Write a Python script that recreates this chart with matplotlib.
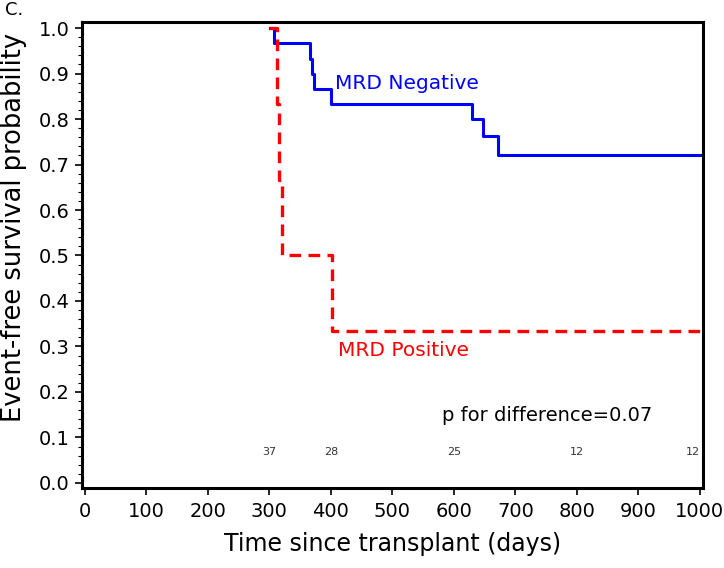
import numpy as np
import matplotlib
matplotlib.use("Agg")
import matplotlib.pyplot as plt
from matplotlib.ticker import MultipleLocator

# Kaplan-Meier step curves (time in days, survival probability)
negTime = [301, 308, 366, 370, 372, 400, 630, 647, 672, 1000]
negSurv = [1.0, 0.967, 0.933, 0.9, 0.867, 0.833, 0.8, 0.762, 0.722, 0.722]

posTime = [299, 313, 316, 320, 401, 1000]
posSurv = [1.0, 0.833, 0.667, 0.5, 0.333, 0.333]

# numbers at risk shown above the x axis
riskTime = [300, 400, 600, 800, 1000]
riskCount = ["37", "28", "25", "12", "12"]

fig = plt.figure(figsize=(7.24, 5.68), dpi=100)
ax = fig.add_axes([0.113, 0.141, 0.858, 0.820])

ax.plot(negTime, negSurv, drawstyle="steps-post", color="#0000ff", lw=2.2)
ax.plot(posTime, posSurv, drawstyle="steps-post", color="#ff0000", lw=2.4,
        linestyle=(0, (3.5, 2.2)))

ax.text(406, 0.879, "MRD Negative", color="#0000ff", fontsize=14.5, va="center")
ax.text(411, 0.292, "MRD Positive", color="#ff0000", fontsize=14.5, va="center")
ax.text(580, 0.149, "p for difference=0.07", color="black", fontsize=14, va="center")

for i in range(len(riskTime)):
    ha = "right" if i == len(riskTime) - 1 else "center"
    ax.text(riskTime[i], 0.068, riskCount[i], fontsize=8, color="#333333",
            ha=ha, va="center")

ax.set_xlim(-5, 1005)
ax.set_ylim(-0.011, 1.013)
ax.set_xticks(np.arange(0, 1001, 100))
ax.yaxis.set_major_locator(MultipleLocator(0.1))
ax.yaxis.set_minor_locator(MultipleLocator(0.02))
ax.yaxis.set_major_formatter(matplotlib.ticker.FormatStrFormatter("%.1f"))

for s in ax.spines.values():
    s.set_linewidth(2.2)
ax.tick_params(axis="both", which="major", labelsize=14, length=5, width=1.2, direction="out")
ax.tick_params(axis="x", which="major", pad=5)
ax.tick_params(axis="y", which="major", pad=4)
ax.tick_params(axis="y", which="minor", length=3, width=0.8, direction="out")

ax.set_xlabel("Time since transplant (days)", fontsize=17, labelpad=8)
ax.set_ylabel("Event-free survival probability", fontsize=18.5)
ax.yaxis.set_label_coords(-0.088, 0.56)

fig.text(0.007, 0.982, "C.", fontsize=13, va="center")

fig.savefig("out.png", dpi=100)
